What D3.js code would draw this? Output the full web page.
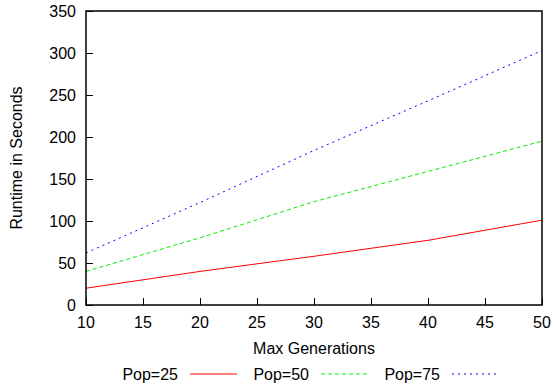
<!DOCTYPE html>
<html>
<head>
<meta charset="utf-8">
<script src="https://cdn.jsdelivr.net/npm/d3@7"></script>
<style>
	body { margin: 0; background: #fff; }
	text { font-family: "Liberation Sans", Arial, sans-serif; font-size: 16px; fill: #000; }
</style>
</head>
<body>
<script>
var generations = [10, 20, 30, 40, 50];
var pop25 = [20, 40, 58, 77, 101];
var pop50 = [40, 80, 123, 159, 195];
var pop75 = [62, 122, 184, 243, 303];
var seriesNames = ["Pop=25", "Pop=50", "Pop=75"];
var xTicks = [10, 15, 20, 25, 30, 35, 40, 45, 50];
var yTicks = [0, 50, 100, 150, 200, 250, 300, 350];

var width = 554, height = 387;
var plot = {left: 86, top: 11, right: 542, bottom: 305};

var series = [
	{name: seriesNames[0], values: pop25, color: "#ff0000", dash: null},
	{name: seriesNames[1], values: pop50, color: "#00ee00", dash: "4,3"},
	{name: seriesNames[2], values: pop75, color: "#0000ff", dash: "2,4"}
];

var svg = d3.select("body").append("svg")
	.attr("width", width)
	.attr("height", height);

var xScale = d3.scaleLinear().domain([10, 50]).range([plot.left, plot.right]);
var yScale = d3.scaleLinear().domain([0, 350]).range([plot.bottom, plot.top]);

// inward ticks on left and bottom
var xAxis = d3.axisTop(xScale).tickValues(xTicks).tickSize(7).tickFormat("");
var yAxis = d3.axisRight(yScale).tickValues(yTicks).tickSize(7).tickFormat("");

svg.append("g")
	.attr("transform", "translate(0," + plot.bottom + ")")
	.call(xAxis)
	.call(function(g){ g.select(".domain").remove(); });
svg.append("g")
	.attr("transform", "translate(" + plot.left + ",0)")
	.call(yAxis)
	.call(function(g){ g.select(".domain").remove(); });

// tick labels
svg.append("g").selectAll("text")
	.data(xTicks).enter()
	.append("text")
	.attr("x", function(d){ return xScale(d); })
	.attr("y", plot.bottom + 23)
	.attr("text-anchor", "middle")
	.text(function(d){ return d; });
svg.append("g").selectAll("text")
	.data(yTicks).enter()
	.append("text")
	.attr("x", plot.left - 10)
	.attr("y", function(d){ return yScale(d) + 6; })
	.attr("text-anchor", "end")
	.text(function(d){ return d; });

// lines
var line = d3.line()
	.x(function(d, i){ return xScale(generations[i]); })
	.y(function(d){ return yScale(d); });

series.forEach(function(s){
	svg.append("path")
		.datum(s.values)
		.attr("fill", "none")
		.attr("stroke", s.color)
		.attr("stroke-width", 1)
		.attr("stroke-dasharray", s.dash)
		.attr("d", line);
});

// frame
svg.append("rect")
	.attr("x", plot.left)
	.attr("y", plot.top)
	.attr("width", plot.right - plot.left)
	.attr("height", plot.bottom - plot.top)
	.attr("fill", "none")
	.attr("stroke", "#000")
	.attr("stroke-width", 1.5);

// axis titles
svg.append("text")
	.attr("x", (plot.left + plot.right) / 2)
	.attr("y", 354)
	.attr("text-anchor", "middle")
	.text("Max Generations");
svg.append("text")
	.attr("transform", "translate(22," + ((plot.top + plot.bottom) / 2) + ") rotate(-90)")
	.attr("text-anchor", "middle")
	.text("Runtime in Seconds");

// legend
var legendY = 374;
var legendX = [178, 309, 440];
var legend = svg.append("g").selectAll("g")
	.data(series).enter()
	.append("g");
legend.append("text")
	.attr("x", function(d, i){ return legendX[i]; })
	.attr("y", legendY + 6)
	.attr("text-anchor", "end")
	.text(function(d){ return d.name; });
legend.append("line")
	.attr("x1", function(d, i){ return legendX[i] + 12; })
	.attr("x2", function(d, i){ return legendX[i] + 59; })
	.attr("y1", legendY)
	.attr("y2", legendY)
	.attr("stroke", function(d){ return d.color; })
	.attr("stroke-width", 1)
	.attr("stroke-dasharray", function(d){ return d.dash; });
</script>
</body>
</html>
